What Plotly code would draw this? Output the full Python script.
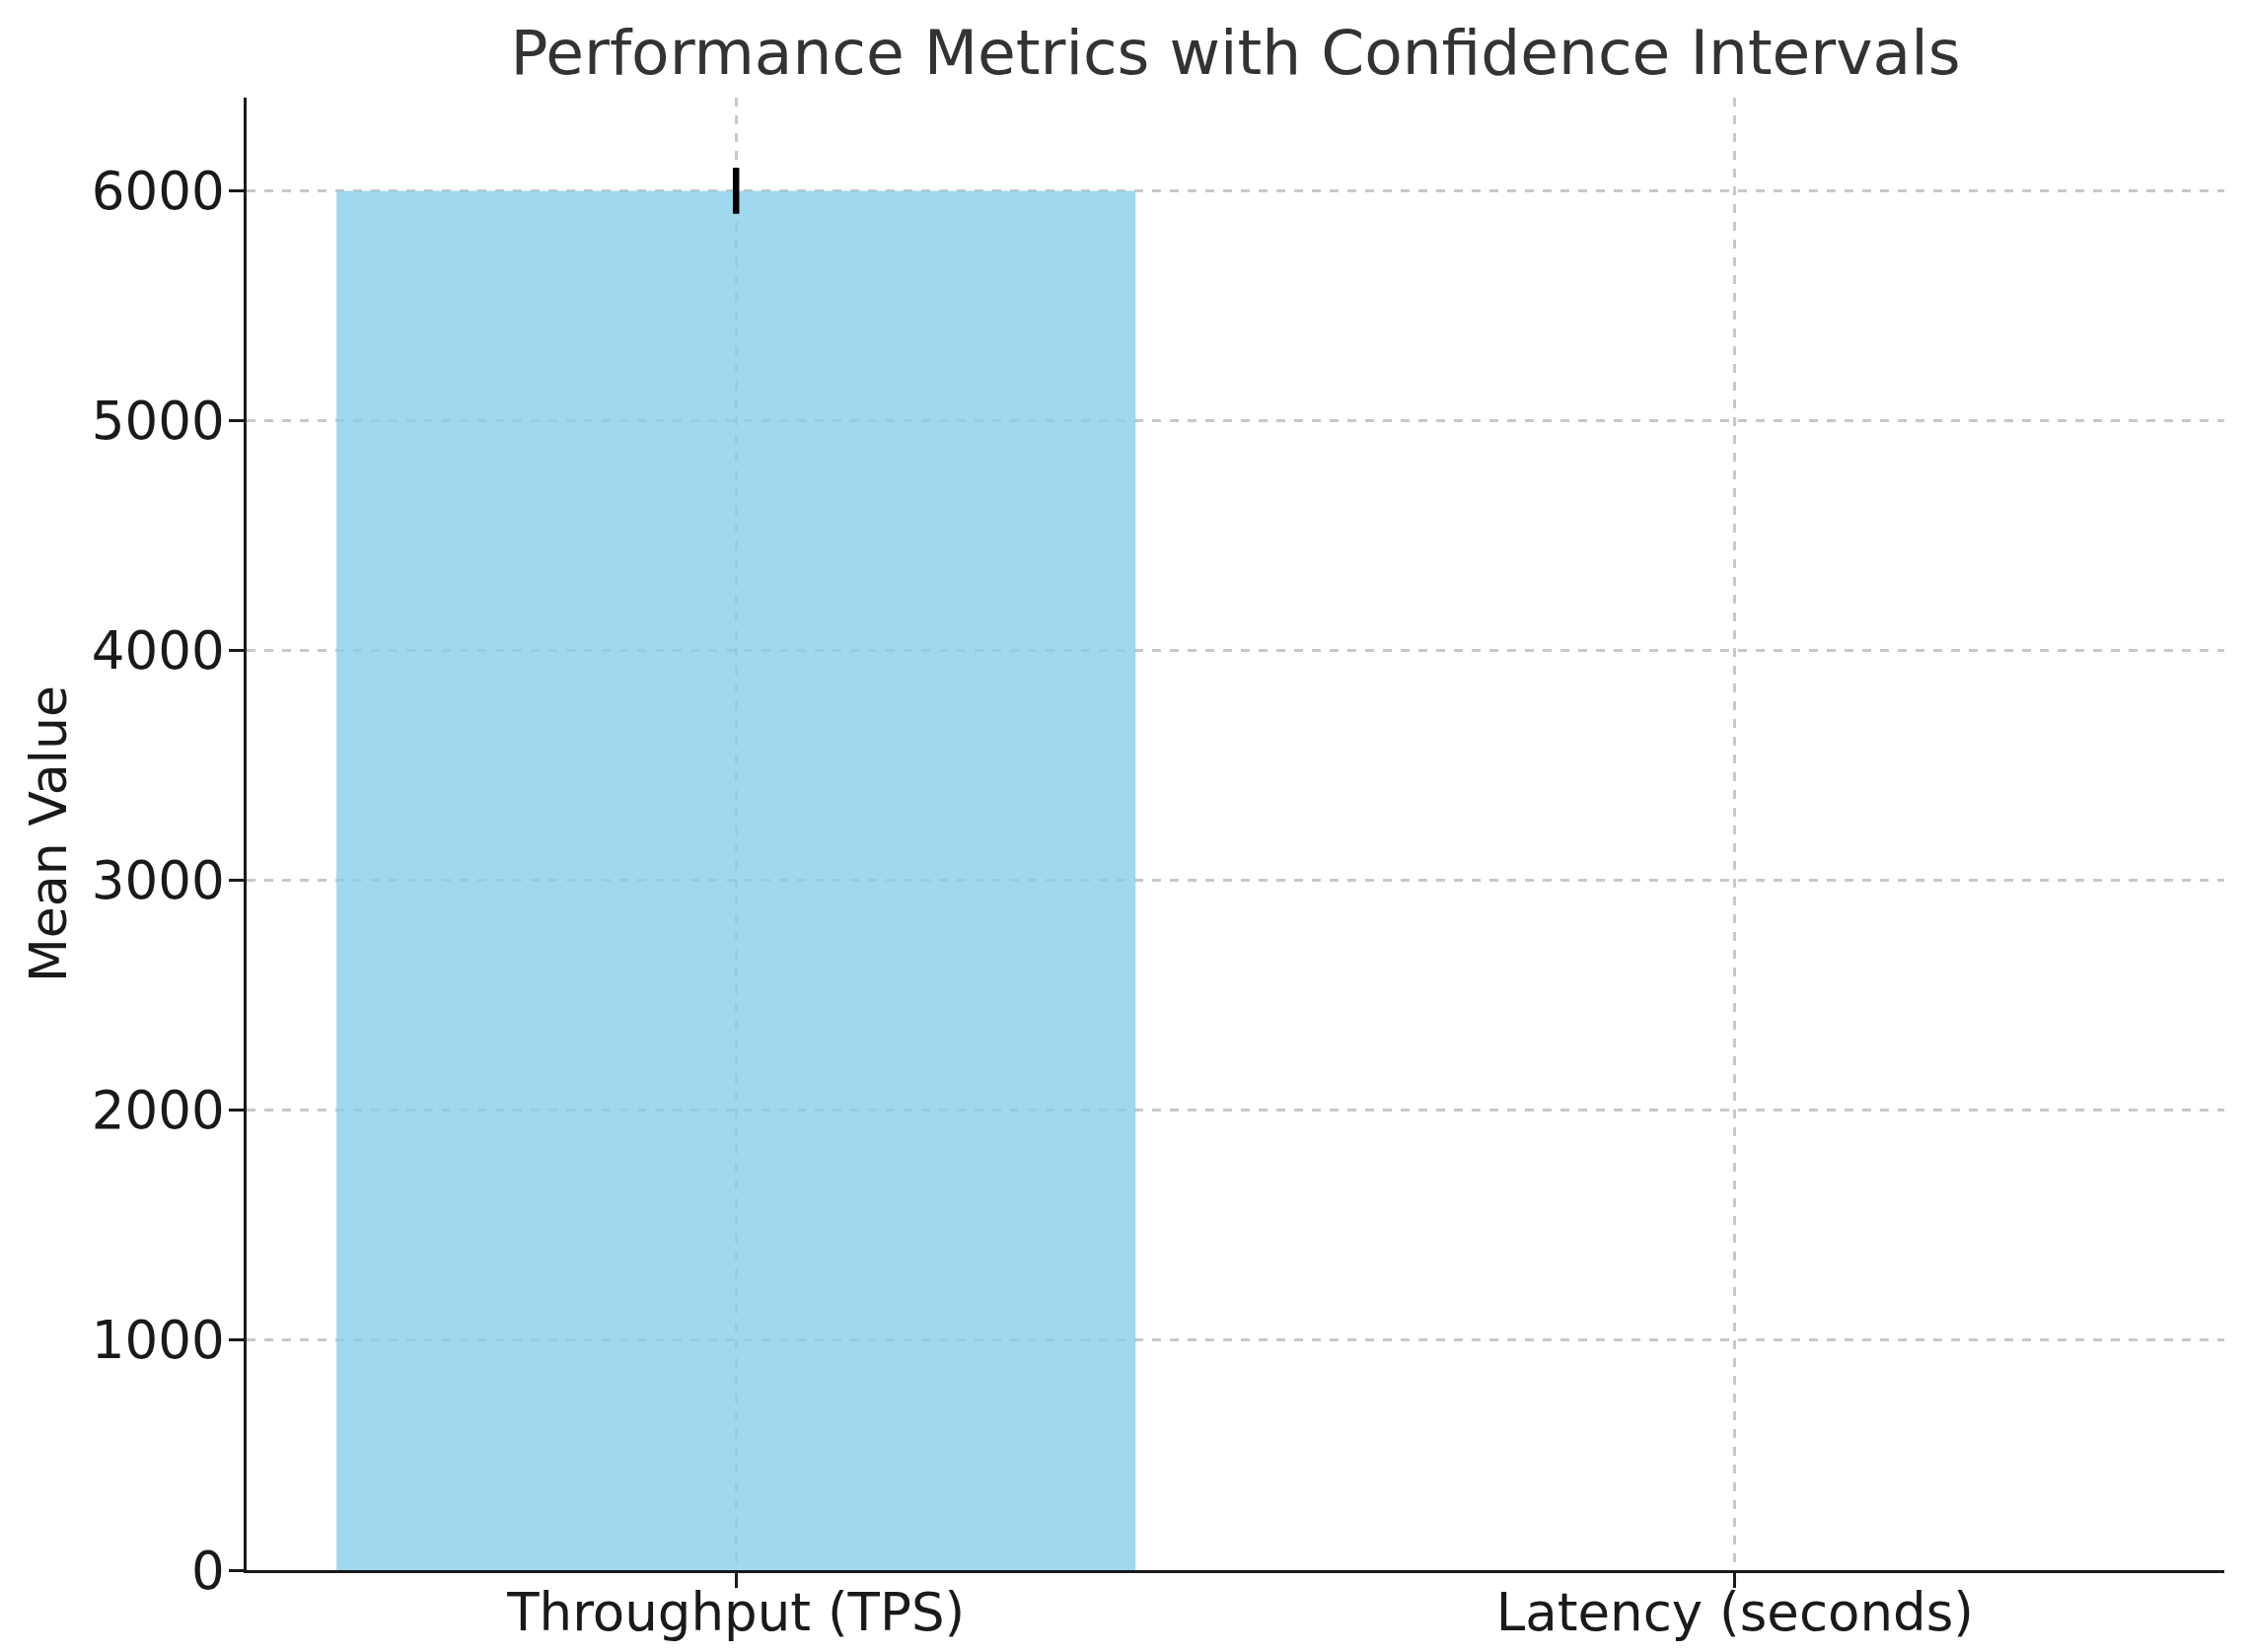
import plotly.graph_objects as go

categories = ["Throughput (TPS)", "Latency (seconds)"]
means = [6000, 0.5]
ci = [100, 0.05]
yticks = [0, 1000, 2000, 3000, 4000, 5000, 6000]

font = "DejaVu Sans"
W, H = 2270, 1667
fig = go.Figure()
fig.add_trace(go.Bar(
    x=[0, 1], y=means, width=0.8,
    marker=dict(color="rgba(135,206,235,0.8)", line=dict(width=0)),
    error_y=dict(type="data", array=ci, visible=True, width=0, thickness=6.5, color="black"),
))
fig.update_layout(
    width=W, height=H,
    margin=dict(l=242, r=23, t=91, b=83, autoexpand=False),
    plot_bgcolor="white", paper_bgcolor="white",
    showlegend=False,
    title=dict(text="Performance Metrics with Confidence Intervals", x=0.5, xref="paper",
               y=1 - 45/H, yref="container", xanchor="center", yanchor="middle",
               font=dict(family=font, size=63, color="#333333"), automargin=False),
    font=dict(family=font, color="#1a1a1a"),
)
fig.update_xaxes(
    range=[-0.49, 1.49], tickmode="array", tickvals=[0, 1], ticktext=categories,
    showline=True, linecolor="#1a1a1a", linewidth=3.3,
    ticks="outside", ticklen=14.6, tickwidth=3.3, tickcolor="#1a1a1a",
    tickfont=dict(family=font, size=53, color="#1a1a1a"), ticklabelstandoff=-20,
    showgrid=True, gridcolor="#c8c8c8", gridwidth=2.7, griddash="dash",
    zeroline=False, mirror=False, automargin=False,
)
fig.update_yaxes(
    range=[0, 6405], tickmode="array", tickvals=yticks, ticktext=[str(v) for v in yticks],
    showline=True, linecolor="#1a1a1a", linewidth=3.3,
    ticks="outside", ticklen=14.6, tickwidth=3.3, tickcolor="#1a1a1a",
    tickfont=dict(family=font, size=53, color="#1a1a1a"), ticklabelstandoff=-6,
    showgrid=True, gridcolor="#c8c8c8", gridwidth=2.7, griddash="dash",
    zeroline=False, mirror=False, automargin=False,
    title=dict(text="Mean Value", font=dict(family=font, size=52, color="#1a1a1a"), standoff=9),
)
fig.write_html("out.html")
